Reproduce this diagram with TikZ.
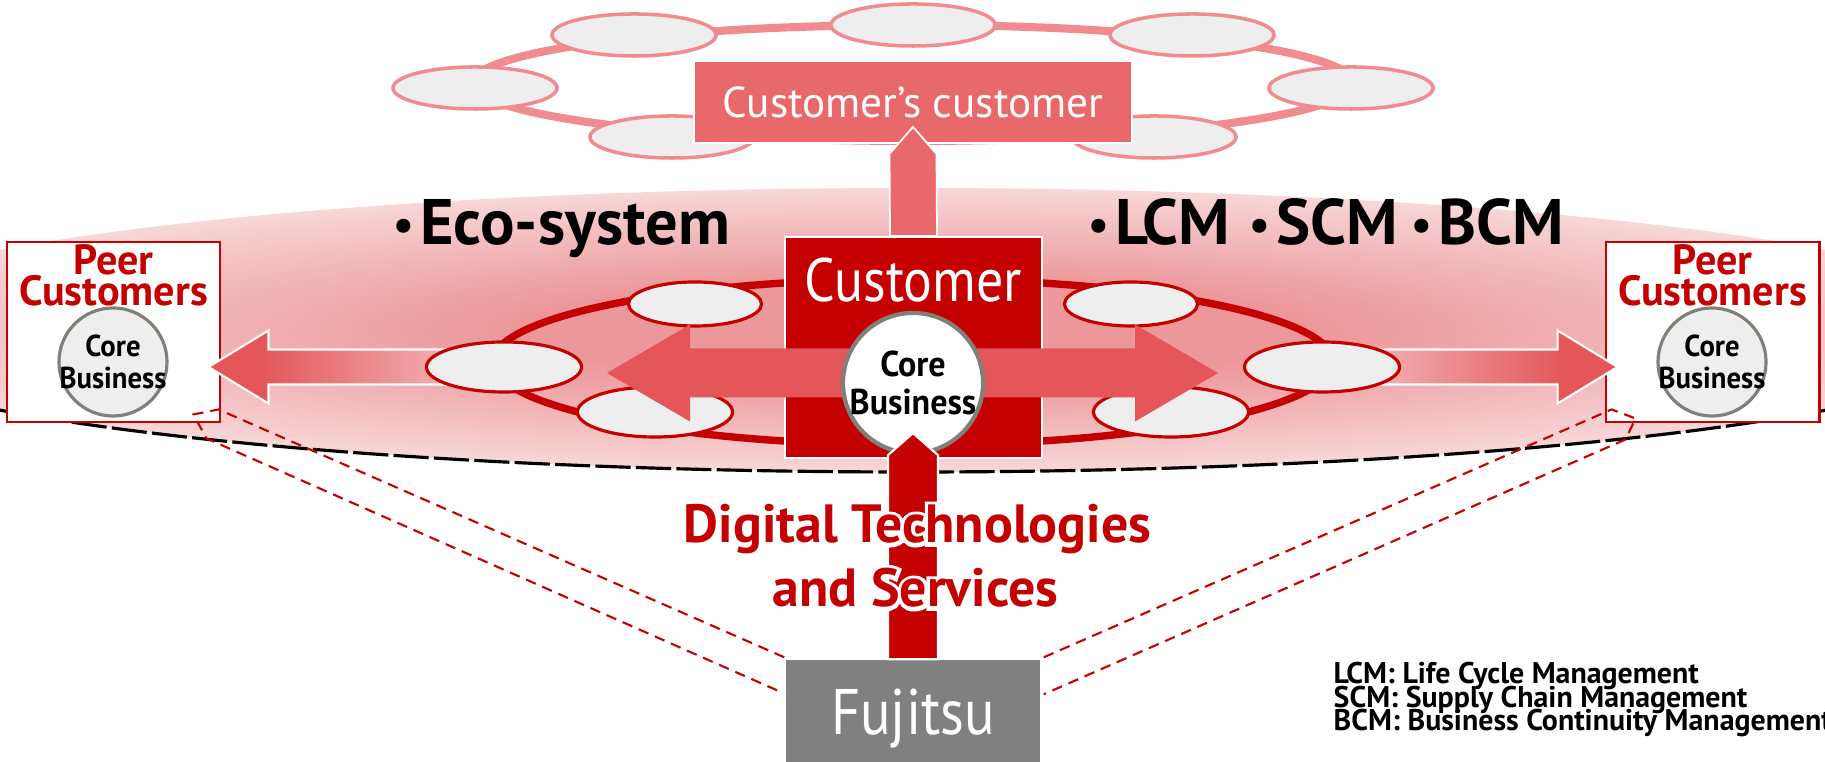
\documentclass[tikz,border=0pt]{standalone}
\usepackage{fontspec}
\setmainfont{PT Sans}
\newfontfamily\fjreg{PT Sans}[FakeStretch=0.88]
\newfontfamily\fjbold{PT Sans}[FakeStretch=0.95]
\newfontfamily\fjhalo{PT Sans}[FakeBold=14]
\usetikzlibrary{shapes}
\usetikzlibrary{calc}

\definecolor{fjred}{RGB}{197,0,0}
\definecolor{ccred}{RGB}{233,104,107}
\definecolor{arrowred}{RGB}{228,86,90}
\definecolor{ringpink}{RGB}{240,140,143}
\definecolor{ovalgray}{RGB}{238,238,238}
\definecolor{coregray}{RGB}{128,128,120}
\definecolor{fjgray}{RGB}{128,128,128}
\definecolor{glowpink}{RGB}{236,152,154}
\definecolor{fadepink}{RGB}{250,232,232}

\pgfdeclareradialshading{glow_bg}{\pgfpoint{0bp}{0bp}}{color(0bp)=(glowpink); color(9bp)=(glowpink); color(35bp)=(white); color(50bp)=(white)}
\pgfdeclarehorizontalshading{fade_left}{100bp}{color(0bp)=(arrowred); color(36bp)=(arrowred); color(100bp)=(fadepink)}
\pgfdeclarehorizontalshading{fade_right}{100bp}{color(0bp)=(fadepink); color(64bp)=(arrowred); color(100bp)=(arrowred)}

% the round dot in front of the key words
\newcommand{\keydot}{\raisebox{1.2pt}{\fontsize{13}{13}\selectfont •}\hspace{1.6pt}}
% tight lines for the footnote
\newcommand{\notefont}{\rmfamily\bfseries\fontsize{8.5}{6.7}\selectfont\lineskiplimit=-20pt\relax}

\tikzset{
	basenode/.style = {
		align=center,
		inner sep=0pt,
		text centered
	},
	oval_top/.style = {
		basenode,
		ellipse,
		draw=ringpink,
		fill=ovalgray,
		line width=1pt,
		minimum width=1.64cm,
		minimum height=0.42cm
	},
	oval_eco/.style = {
		basenode,
		ellipse,
		draw=fjred,
		fill=ovalgray,
		line width=0.9pt,
		minimum width=1.55cm,
		minimum height=0.50cm
	},
	oval_eco_back/.style = {
		oval_eco,
		minimum width=1.33cm,
		minimum height=0.44cm
	},
	box_cc/.style = {
		basenode,
		rectangle,
		draw=white,
		fill=ccred,
		text=white,
		line width=0.5pt,
		minimum width=4.38cm,
		minimum height=0.82cm,
		font=\rmfamily\fontsize{12.3}{14}\selectfont
	},
	box_cust/.style = {
		basenode,
		rectangle,
		draw=white,
		fill=fjred,
		line width=0.5pt,
		minimum width=2.57cm,
		minimum height=2.21cm
	},
	box_peer/.style = {
		basenode,
		rectangle,
		draw=fjred,
		fill=white,
		line width=0.8pt,
		minimum width=2.13cm,
		minimum height=1.80cm
	},
	box_fj/.style = {
		basenode,
		rectangle,
		fill=fjgray,
		minimum width=2.54cm,
		minimum height=1.10cm
	},
	core_main/.style = {
		basenode,
		circle,
		draw=coregray,
		fill=white,
		line width=1.2pt,
		minimum size=1.40cm
	},
	core_peer/.style = {
		core_main,
		fill=ovalgray,
		line width=0.9pt,
		minimum size=1.08cm
	},
	txt_core/.style = {
		basenode,
		font=\fjbold\bfseries\fontsize{10.2}{10.8}\selectfont
	},
	txt_core_peer/.style = {
		basenode,
		font=\fjbold\bfseries\fontsize{8.6}{9.1}\selectfont
	},
	txt_peer/.style = {
		basenode,
		text=fjred,
		font=\rmfamily\bfseries\fontsize{12}{8.8}\selectfont
	},
	txt_big/.style = {
		basenode,
		anchor=base west,
		font=\rmfamily\bfseries\fontsize{18.3}{20}\selectfont
	},
	txt_cust/.style = {
		basenode,
		anchor=base,
		text=white,
		font=\fjreg\fontsize{17.4}{20}\selectfont
	},
	txt_fj/.style = {
		txt_cust,
		font=\fjreg\fontsize{18.3}{20}\selectfont
	},
	txt_dig/.style = {
		basenode,
		anchor=base,
		text=fjred,
		font=\rmfamily\bfseries\fontsize{15.3}{17}\selectfont
	},
	txt_halo/.style = {
		txt_dig,
		text=white,
		font=\fjhalo\bfseries\fontsize{15.3}{17}\selectfont
	},
	txt_note/.style = {
		align=left,
		inner sep=0pt,
		anchor=north west,
		font=\notefont
	},
	ring_top/.style = {draw=ringpink, line width=2.3pt},
	ring_eco/.style = {draw=fjred, line width=2.1pt},
	rim_line/.style = {draw=black, line width=0.9pt, dash pattern=on 10pt off 1.5pt},
	dash_red/.style = {draw=fjred, line width=0.6pt, dash pattern=on 3pt off 2pt},
	arrow_cc/.style = {fill=ccred, draw=white, line width=0.5pt},
	arrow_dig/.style = {fill=fjred, draw=white, line width=0.6pt},
	arrow_dbl/.style = {fill=arrowred},
	arrow_side/.style = {draw=white, line width=0.6pt},
}

\begin{document}
\begin{tikzpicture}[x=0.01cm, y=-0.01cm]
\useasboundingbox (0,0) rectangle (1825,762);
\clip (0,0) rectangle (1825,762);

% eco-system glow and its rim
\shade[shading=glow_bg] (913,330) ellipse [x radius=1106, y radius=142];
\begin{scope}
	\clip (0,330) rectangle (1825,762);
	\draw[rim_line] (913,330) ellipse [x radius=1106, y radius=142];
\end{scope}

% customer's customer ring
\draw[ring_top] (913,83) ellipse [x radius=440, y radius=58];
\foreach \x/\y [count=\i] in {475/88, 634/35, 913/25, 1192/35, 1351/88, 672/137, 1154/137}
	\node[oval_top] (top_\i) at (\x,\y) {};
\node[box_cc] (cc) at (913,102) {Customer’s customer};

% peer customers
\node[box_peer] (peer_l) at (113.5,332) {};
\node[box_peer] (peer_r) at (1712.5,332) {};
\node[txt_peer] (peer_l_lbl) at (113.5,275.5) {Peer\\Customers};
\node[txt_peer] (peer_r_lbl) at (1712.5,275.5) {Peer\\Customers};
\node[core_peer] (core_l) at (113,362) {};
\node[core_peer] (core_r) at (1712,362) {};
\node[txt_core_peer] (core_l_lbl) at (core_l) {Core\\Business};
\node[txt_core_peer] (core_r_lbl) at (core_r) {Core\\Business};

% arrows out to the peers
\coordinate (tip_l) at ($(peer_l.east)+(-13,35)$);
\coordinate (tip_r) at ($(peer_r.west)+(13,35)$);
\shade[shading=fade_left, arrow_side] (tip_l) -- ++(60,-36.5) -- ++(0,19) -- ++(178,0) -- ++(0,35) -- ++(-178,0) -- ++(0,19) -- cycle;
\shade[shading=fade_right, arrow_side] (tip_r) -- ++(-60,-36.5) -- ++(0,19) -- ++(-179,0) -- ++(0,35) -- ++(179,0) -- ++(0,19) -- cycle;

% eco-system ring
\draw[ring_eco] (913,362) ellipse [x radius=420, y radius=83];
\node[oval_eco_back] (eco_1) at (695,304) {};
\node[oval_eco_back] (eco_2) at (1131,304) {};
\node[oval_eco] (eco_3) at (504,367) {};
\node[oval_eco] (eco_4) at (1322,367) {};
\node[oval_eco] (eco_5) at (655,412) {};
\node[oval_eco] (eco_6) at (1171,412) {};

% customer
\node[box_cust] (cust) at (913.5,347.5) {};
\node[txt_cust] (cust_lbl) at (913.5,302) {Customer};
\fill[arrow_cc] (cust.north -| 890,0) -- ($(cc.south)+(-23.5,10)$) -- ($(cc.south)+(0,-17)$) -- ($(cc.south)+(23.5,10)$) -- (cust.north -| 937,0) -- cycle;

\coordinate (dbl_l) at (607,373);
\coordinate (dbl_r) at (1218,373);
\fill[arrow_dbl] (dbl_l) -- ++(83,-48.5) -- ++(0,24) -- ($(dbl_r)+(-83,-24.5)$) -- ++(0,-24) -- (dbl_r) -- ++(-83,48.5) -- ++(0,-24) -- ($(dbl_l)+(83,24.5)$) -- ++(0,24) -- cycle;

\node[core_main] (core) at (913,383) {};
\node[txt_core] (core_lbl) at (core) {Core\\Business};

% fujitsu
\node[box_fj] (fj) at (913,715) {};
\node[txt_fj] (fj_lbl) at (913,735) {Fujitsu};
\fill[arrow_dig] ($(fj.north)+(-25,0)$) -- ($(core.south)+(-25,0)$) -- ($(core.south)+(0,-22)$) -- ($(core.south)+(25,0)$) -- ($(fj.north)+(25,0)$) -- cycle;

\draw[dash_red] ($(fj.north west)+(-1,-2)$) -- ($(peer_l.south east)+(-3,-14)$) -- ++(-25,5) -- ++(13,24) -- ($(fj.north west)+(-6,32)$);
\draw[dash_red] ($(fj.north east)+(3,-2)$) -- ($(peer_r.south west)+(7,-14)$) -- ++(24,9) -- ++(-10,21) -- ($(fj.north east)+(3,35)$);

% texts
\node[txt_big] (eco_lbl) at (393,245) {\keydot Eco-system};
\foreach \n/\x in {LCM/1088, SCM/1249, BCM/1411}
	\node[txt_big] (lbl_\n) at (\x,245) {\keydot\n};
\node[txt_halo] (dig_1_halo) at (917.5,543) {Digital Technologies};
\node[txt_halo] (dig_2_halo) at (915.5,607) {and Services};
\node[txt_dig] (dig_1) at (917.5,543) {Digital Technologies};
\node[txt_dig] (dig_2) at (915.5,607) {and Services};
\node[txt_note] (note) at (1333,661.5) {LCM: Life Cycle Management\\SCM: Supply Chain Management\\BCM: Business Continuity Management};
\end{tikzpicture}
\end{document}
